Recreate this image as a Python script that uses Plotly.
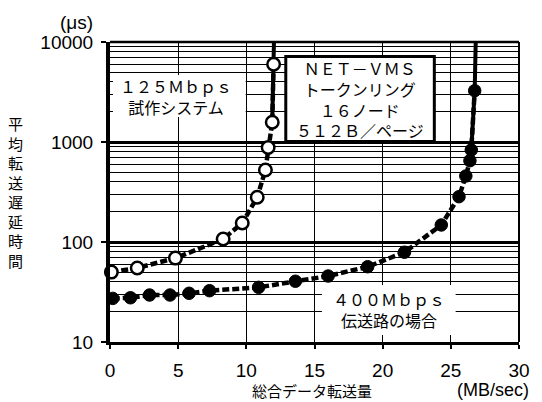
import plotly.graph_objects as go

# ---- data ----
x_125 = [0.1, 2.0, 4.8, 8.3, 9.7, 10.8, 11.4, 11.6, 11.9, 12.0]
y_125 = [50, 55, 69, 107, 155, 280, 525, 880, 1575, 6000]
x_125_ext = [11.9, 12.0, 12.1]
y_125_ext = [1575, 6000, 30000]

x_400 = [0.2, 1.5, 2.9, 4.4, 5.8, 7.3, 10.9, 13.6, 16.0, 18.9, 21.6, 24.3, 25.6, 26.1, 26.4, 26.5, 26.75]
y_400 = [27.3, 27.7, 29.5, 29.5, 30.7, 32.6, 35.2, 40.5, 45.7, 56.6, 79, 148, 284, 457, 650, 832, 3260]
x_400_ext = [26.5, 26.75, 26.9]
y_400_ext = [832, 3260, 30000]

x_ticks = [0, 5, 10, 15, 20, 25, 30]
y_ticks = [10, 100, 1000, 10000]
y_tick_text = ["10", "100", "1000", "10000"]

box1_lines = ["１２５Ｍｂｐｓ", "試作システム"]
box2_lines = ["ＮＥＴ－ＶＭＳ", "トークンリング", "１６ノード", "５１２Ｂ／ページ"]
box3_lines = ["４００Ｍｂｐｓ", "伝送路の場合"]
y_title_chars = list("平均転送遅延時間")

# ---- layout geometry (pixels, page coordinates; page body has an 8px margin) ----
OFF = 8
PAGE_W, PAGE_H = 542, 402
PL, PR, PT, PB = 110, 523, 42, 342   # plot area in page pixels
W, H = PAGE_W - OFF, PAGE_H - OFF
PW, PH = PR - PL, PB - PT


def px(x):
    return (x - PL) / PW


def py(y):
    return (PB - y) / PH


JP = "Noto Sans CJK JP"
SANS = "Liberation Sans"

fig = go.Figure()

# solid top segments (drawn under markers)
fig.add_trace(go.Scatter(x=x_125_ext, y=y_125_ext, mode="lines",
                         line=dict(color="black", width=4), showlegend=False,
                         hoverinfo="skip"))
fig.add_trace(go.Scatter(x=x_400_ext, y=y_400_ext, mode="lines",
                         line=dict(color="black", width=4), showlegend=False,
                         hoverinfo="skip"))

fig.add_trace(go.Scatter(
    x=x_125, y=y_125, mode="lines+markers", name="125Mbps",
    line=dict(color="black", width=4.5, dash="7px,3px"),
    marker=dict(symbol="circle", size=12.5, color="white",
                line=dict(color="black", width=2.5)),
    cliponaxis=False, showlegend=False))

fig.add_trace(go.Scatter(
    x=x_400, y=y_400, mode="lines+markers", name="400Mbps",
    line=dict(color="black", width=4.5, dash="7px,3px"),
    marker=dict(symbol="circle", size=12.5, color="black",
                line=dict(color="black", width=1)),
    cliponaxis=False, showlegend=False))

shapes = [
    dict(type="rect", xref="paper", yref="paper",
         x0=px(113), x1=px(247), y0=py(117), y1=py(75),
         fillcolor="white", line=dict(width=0), layer="above"),
    dict(type="rect", xref="paper", yref="paper",
         x0=px(287.5), x1=px(437.5), y0=py(141.5), y1=py(56.5),
         fillcolor="white", line=dict(color="black", width=3), layer="above"),
    dict(type="rect", xref="paper", yref="paper",
         x0=px(324), x1=px(459), y0=py(335), y1=py(285),
         fillcolor="white", line=dict(width=0), layer="above"),
    dict(type="line", xref="paper", yref="paper", x0=1, x1=1, y0=0, y1=1,
         line=dict(color="black", width=2), layer="above"),
    dict(type="line", xref="paper", yref="paper", x0=0, x1=1, y0=1, y1=1,
         line=dict(color="black", width=2.5), layer="above"),
]

annotations = []


def add_text(t, cx, cy, family, size):
    annotations.append(dict(text=t, x=px(cx), y=py(cy), xref="paper", yref="paper",
                            showarrow=False, xanchor="center", yanchor="middle",
                            align="center",
                            font=dict(family=family, size=size, color="black")))


add_text("<br>".join(box1_lines), 177, 96, JP, 16)
add_text("<br>".join(box2_lines), 362, 99, JP, 16)
add_text("<br>".join(box3_lines), 392, 309, JP, 16)
add_text("<br>".join(y_title_chars), 15, 191.5, JP, 15)

add_text("総合データ転送量", 314, 390.7, JP, 15)
add_text("(MB/sec)", 497, 390, SANS, 18)
add_text("(μs)", 76, 22, SANS, 19)

fig.update_layout(
    width=W, height=H,
    margin=dict(l=PL - OFF, r=PAGE_W - PR, t=PT - OFF, b=PAGE_H - PB, pad=0),
    paper_bgcolor="white", plot_bgcolor="white",
    shapes=shapes, annotations=annotations,
    font=dict(family=SANS, size=19, color="black"),
    xaxis=dict(range=[0, 30], tickvals=x_ticks, showgrid=True, gridcolor="black",
               gridwidth=1, zeroline=False, showline=True, linecolor="black",
               linewidth=3, mirror=False, ticks="outside", ticklen=4, tickwidth=2,
               tickcolor="black", ticklabelstandoff=5,
               tickfont=dict(family=SANS, size=19)),
    yaxis=dict(type="log", range=[1, 4], tickvals=y_ticks, ticktext=y_tick_text,
               showgrid=True, gridcolor="black", gridwidth=2.5, zeroline=False,
               showline=True, linecolor="black", linewidth=4, mirror=False,
               ticks="outside", ticklen=5, tickwidth=2, tickcolor="black",
               ticklabelstandoff=4,
               tickfont=dict(family=SANS, size=19),
               minor=dict(dtick="D1", showgrid=True, gridcolor="black",
                          gridwidth=1, ticks="")),
)

fig.write_html("out.html")
